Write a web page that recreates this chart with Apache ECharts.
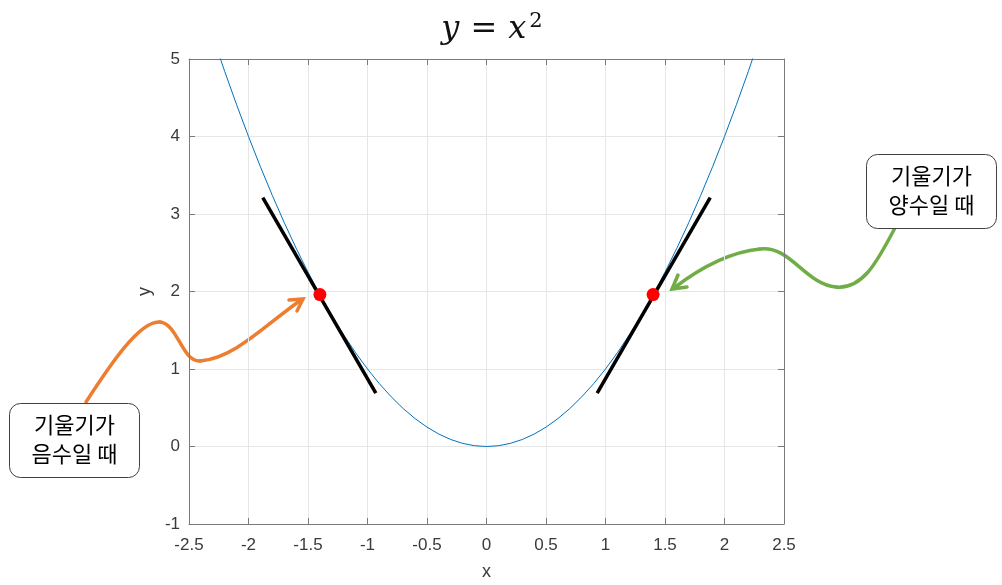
<!DOCTYPE html>
<html>
<head>
<meta charset="utf-8">
<script src="https://cdn.jsdelivr.net/npm/echarts@6/dist/echarts.min.js"></script>
<style>html,body{margin:0;padding:0;background:#fff;}#c{width:1002px;height:585px;}</style>
</head>
<body>
<div id="c"></div>
<script>
// ---- data ----
const curveX = [-2.5,-2.4,-2.3,-2.2,-2.1,-2.0,-1.9,-1.8,-1.7,-1.6,-1.5,-1.4,-1.3,-1.2,-1.1,-1.0,-0.9,-0.8,-0.7,-0.6,-0.5,-0.4,-0.3,-0.2,-0.1,0,
  0.1,0.2,0.3,0.4,0.5,0.6,0.7,0.8,0.9,1.0,1.1,1.2,1.3,1.4,1.5,1.6,1.7,1.8,1.9,2.0,2.1,2.2,2.3,2.4,2.5];
const curveY = [6.25,5.76,5.29,4.84,4.41,4.00,3.61,3.24,2.89,2.56,2.25,1.96,1.69,1.44,1.21,1.00,0.81,0.64,0.49,0.36,0.25,0.16,0.09,0.04,0.01,0,
  0.01,0.04,0.09,0.16,0.25,0.36,0.49,0.64,0.81,1.00,1.21,1.44,1.69,1.96,2.25,2.56,2.89,3.24,3.61,4.00,4.41,4.84,5.29,5.76,6.25];
const tangentNeg = [[-1.88, 3.21], [-0.93, 0.69]];
const tangentPos = [[0.93, 0.69], [1.88, 3.21]];
const pointsX = [-1.4, 1.4];
const pointsY = [1.96, 1.96];
const xTicks = [-2.5,-2,-1.5,-1,-0.5,0,0.5,1,1.5,2,2.5];
const yTicks = [-1,0,1,2,3,4,5];
const labelNeg = ['기울기가', '음수일 때'];
const labelPos = ['기울기가', '양수일 때'];

const chart = echarts.init(document.getElementById('c'));
const axisColor = '#7a7a7a';
const labelColor = '#3a3a3a';
const fmt = v => String(v);
const baseX = {
  type: 'value', min: xTicks[0], max: xTicks[xTicks.length-1], interval: 0.5,
  axisLine: {show: true, onZero: false, lineStyle: {color: axisColor, width: 1}},
  axisTick: {show: true, inside: true, length: 6, lineStyle: {color: axisColor}},
  splitLine: {show: false}
};
const baseY = {
  type: 'value', min: yTicks[0], max: yTicks[yTicks.length-1], interval: 1,
  axisLine: {show: true, onZero: false, lineStyle: {color: axisColor, width: 1}},
  axisTick: {show: true, inside: true, length: 6, lineStyle: {color: axisColor}},
  splitLine: {show: false}
};
const curveData = curveX.map((x, i) => [x, curveY[i]]);
const pts = pointsX.map((x, i) => [x, pointsY[i]]);

function bez(x1, y1, cpx1, cpy1, cpx2, cpy2, x2, y2, color) {
  return {type: 'bezierCurve', shape: {x1, y1, cpx1, cpy1, cpx2, cpy2, x2, y2},
    style: {fill: null, stroke: color, lineWidth: 3.5, lineCap: 'round'}};
}
const orange = '#ED7D31', green = '#70AD47';

chart.setOption({
  backgroundColor: '#fff',
  animation: false,
  title: {
    text: '{i|y} {n|=} {i|x}{s|2}',
    left: 487, top: 6, textAlign: 'center',
    textStyle: {
      rich: {
        i: {fontFamily: 'DejaVu Serif', fontStyle: 'italic', fontWeight: 'normal', fontSize: 32, color: '#111'},
        n: {fontFamily: 'DejaVu Serif', fontWeight: 'normal', fontSize: 32, color: '#111', padding: [0, 6, 0, 6]},
        s: {fontFamily: 'DejaVu Serif', fontWeight: 'normal', fontSize: 21, color: '#111', verticalAlign: 'top', padding: [0, 0, 16, 3]}
      }
    }
  },
  grid: {left: 189, right: 218, top: 59, bottom: 61, containLabel: false, outerBoundsMode: 'none'},
  xAxis: [
    Object.assign({}, baseX, {
      position: 'bottom',
      name: 'x', nameLocation: 'middle', nameGap: 39,
      nameTextStyle: {fontFamily: 'Liberation Sans', fontSize: 18, color: labelColor},
      axisLabel: {fontFamily: 'Liberation Sans', fontSize: 17, color: labelColor, margin: 13, formatter: fmt},
      splitLine: {show: true, lineStyle: {color: '#e6e6e6', width: 1}}
    }),
    Object.assign({}, baseX, {position: 'top', axisLabel: {show: false}})
  ],
  yAxis: [
    Object.assign({}, baseY, {
      position: 'left',
      name: 'y', nameLocation: 'middle', nameGap: 34,
      nameTextStyle: {fontFamily: 'Liberation Sans', fontSize: 18, color: labelColor},
      axisLabel: {fontFamily: 'Liberation Sans', fontSize: 17, color: labelColor, margin: 9, formatter: fmt},
      splitLine: {show: true, lineStyle: {color: '#e6e6e6', width: 1}}
    }),
    Object.assign({}, baseY, {position: 'right', axisLabel: {show: false}})
  ],
  series: [
    {type: 'line', data: curveData, showSymbol: false, clip: true,
     lineStyle: {color: '#0072BD', width: 1}, z: 2},
    {type: 'line', data: tangentNeg, showSymbol: false, lineStyle: {color: '#000', width: 3.5}, z: 3},
    {type: 'line', data: tangentPos, showSymbol: false, lineStyle: {color: '#000', width: 3.5}, z: 3},
    {type: 'scatter', data: pts, symbolSize: 13, itemStyle: {color: '#FF0000', opacity: 1}, z: 4}
  ],
  graphic: [
    bez(86,402, 110,365, 140,320, 160,322, orange),
    bez(160,322, 178,324, 182,362, 200,361, orange),
    bez(200,361, 235,358, 265,325, 301,300, orange),
    {type: 'polyline', shape: {points: [[289,300],[303,299],[297,311]]},
     style: {fill: null, stroke: orange, lineWidth: 3.5, lineJoin: 'miter', lineCap: 'round'}},
    bez(895,228, 880,255, 865,290, 836,287, green),
    bez(836,287, 805,284, 790,245, 760,249, green),
    bez(760,249, 730,252, 700,268, 674,288, green),
    {type: 'polyline', shape: {points: [[687,287],[672,289],[678,275]]},
     style: {fill: null, stroke: green, lineWidth: 3.5, lineJoin: 'miter', lineCap: 'round'}},
    {type: 'rect', shape: {x: 9.5, y: 403.5, width: 130, height: 74, r: 11},
     style: {fill: '#fff', stroke: '#404040', lineWidth: 1}},
    {type: 'text', x: 74.5, y: 439,
     style: {text: labelNeg.join('\n'), font: '22px "Noto Sans CJK KR"', fill: '#000', align: 'center', verticalAlign: 'middle', lineHeight: 29}},
    {type: 'rect', shape: {x: 866.5, y: 154.5, width: 130, height: 74, r: 11},
     style: {fill: '#fff', stroke: '#404040', lineWidth: 1}},
    {type: 'text', x: 931.5, y: 190,
     style: {text: labelPos.join('\n'), font: '22px "Noto Sans CJK KR"', fill: '#000', align: 'center', verticalAlign: 'middle', lineHeight: 29}}
  ]
});
</script>
</body>
</html>
